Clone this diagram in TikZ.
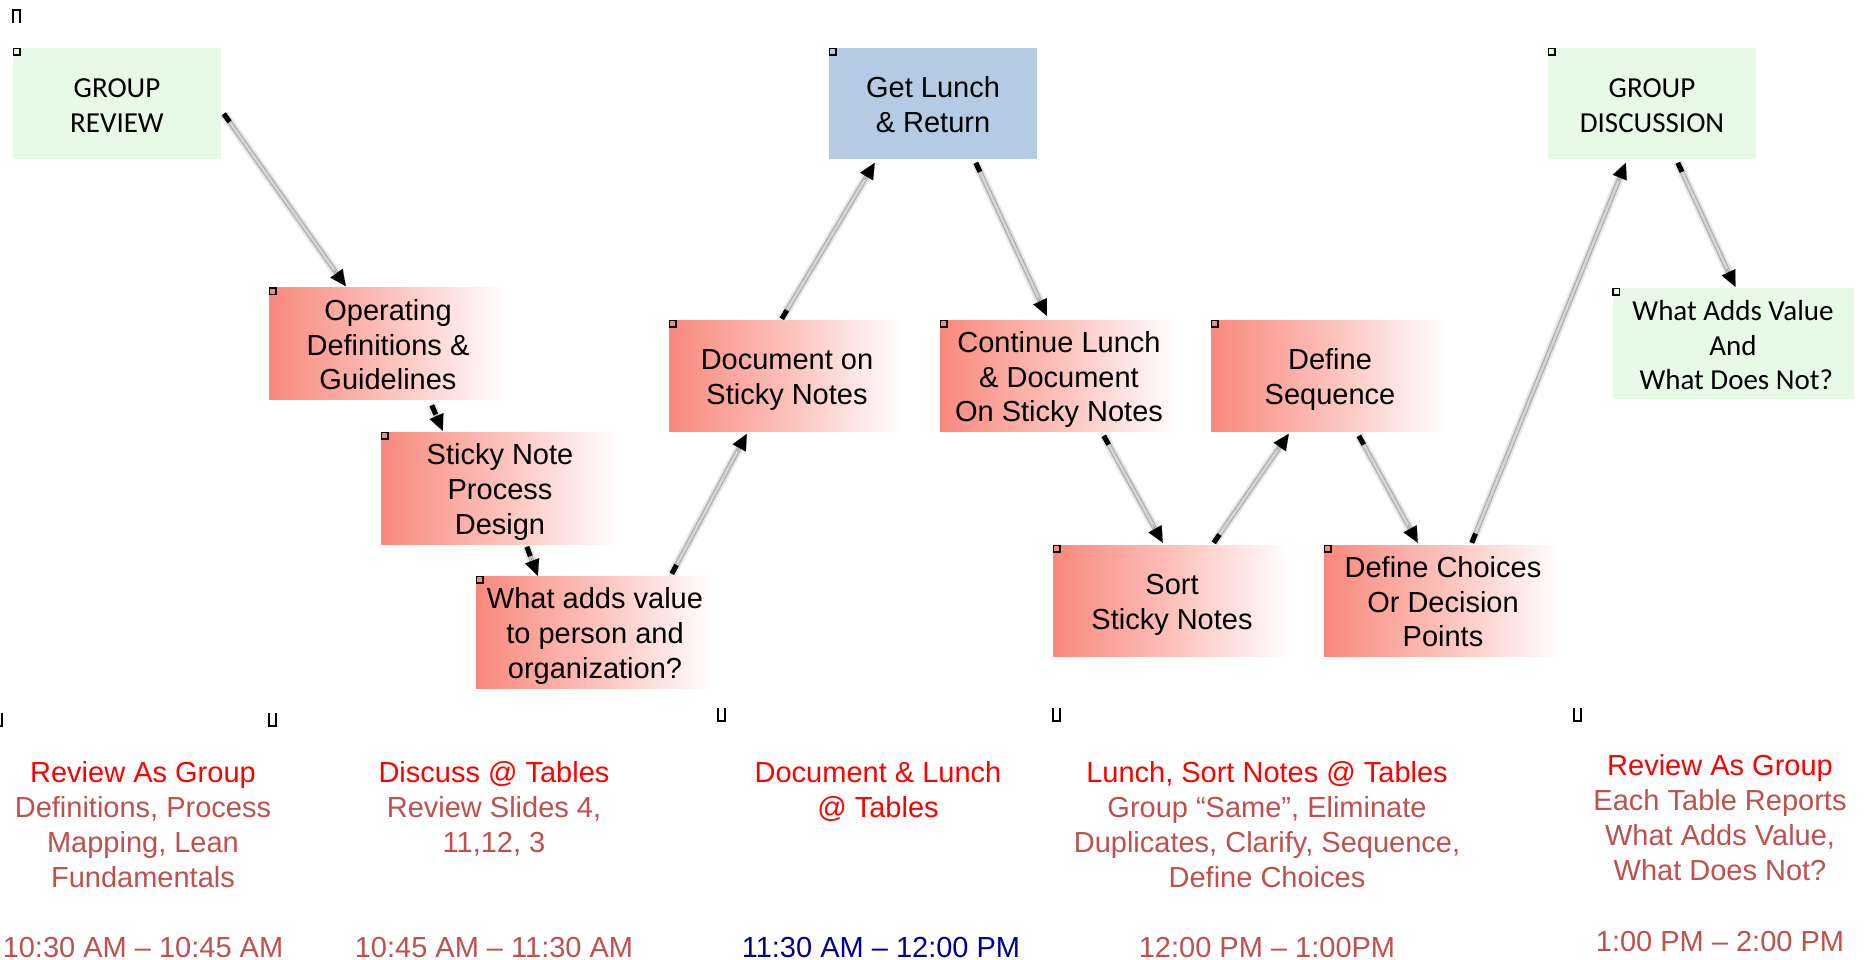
\documentclass[tikz,border=0pt]{standalone}
\usepackage{fontspec}
\setmainfont{Liberation Sans}
\newfontfamily\calib{Carlito}
\usetikzlibrary{arrows.meta,calc}
\definecolor{grn}{HTML}{E6FAE6}
\definecolor{blu}{HTML}{B4CBE3}
\definecolor{pkA}{HTML}{F9877B}
\definecolor{hd}{HTML}{FF0000}
\definecolor{bd}{HTML}{C0504D}
\definecolor{nv}{HTML}{000090}
\pgfdeclarehorizontalshading{pinkfade}{100bp}{color(0bp)=(pkA); color(25bp)=(pkA); color(27bp)=(pkA!95!white); color(50bp)=(pkA!52!white); color(70bp)=(pkA!10!white); color(75bp)=(white); color(100bp)=(white)}
\newcommand\tl{\rule{0pt}{32pt}}
\newcommand\bl{\rule[-9pt]{0pt}{9pt}}
\tikzset{
  box/.style={inner sep=0pt, align=center, font=\fontsize{29}{34.8}\selectfont, minimum width=238pt, minimum height=112pt},
  pinkbox/.style={box, shade, shading=pinkfade},
  greenbox/.style={box, fill=grn, font=\calib\fontsize{29}{34.8}\selectfont},
  bluebox/.style={box, fill=blu},
  marksq/.style={draw=black, line width=1.5pt},
  cshadow/.style={draw=black!9, line width=9pt},
  ctube/.style={draw=black!30, line width=5pt},
  ctubein/.style={draw=black!16, line width=2.2pt},
  cstub/.style={draw=black, line width=5pt},
  ctip/.style={draw=black, line width=0.1pt, -{Triangle[length=16pt,width=15pt]}},
  bt/.style={inner sep=0pt, align=center, font=\fontsize{29}{35}\selectfont, text=bd, anchor=north},
  tt/.style={inner sep=0pt, font=\fontsize{29}{35}\selectfont, text=bd, anchor=base},
  phmark/.style={draw=black, line width=2.6pt}
}
\newcommand\mksq[1]{\draw[marksq] ($(#1.north west)+(0.8,0.8)$) rectangle ++(6.5,6.5);}
\newcommand\conn[2]{%
  \draw[cshadow] (#1) -- ($(#2)!10pt!(#1)$);
  \draw[ctube] (#1) -- ($(#2)!12pt!(#1)$);
  \draw[ctubein] (#1) -- ($(#2)!12pt!(#1)$);
  \draw[cstub] (#1) -- ($(#1)!10pt!(#2)$);
  \draw[ctip] ($(#2)!20pt!(#1)$) -- (#2);}
\begin{document}
\begin{tikzpicture}[x=1pt,y=-1pt]
\useasboundingbox (0,0) rectangle (1866,960);
\fill[white] (0,0) rectangle (1866,960);
% boxes
\node[greenbox, minimum width=208pt, minimum height=111pt] (gr) at (117,103.5) {\tl GROUP\\REVIEW\bl};
\node[pinkbox] (op) at (388,343.5) {\tl Operating\\Definitions \&\\Guidelines\bl};
\node[pinkbox] (sn) at (500,488) {\tl Sticky Note\\Process\\Design\bl};
\node[pinkbox] (wa) at (595,632) {\tl What adds value\\to person and\\organization?\bl};
\node[pinkbox, minimum width=236pt, minimum height=111pt] (doc) at (787,375.5) {\tl Document on\\Sticky Notes\bl};
\node[bluebox, minimum width=208pt, minimum height=111pt] (gl) at (933,103.5) {\tl Get Lunch\\\& Return\bl};
\node[pinkbox, minimum height=111pt] (cl) at (1059,375.5) {\tl Continue Lunch\\\& Document\\On Sticky Notes\bl};
\node[pinkbox, minimum height=111pt] (ds) at (1330,375.5) {\tl Define\\Sequence\bl};
\node[pinkbox, minimum height=111pt] (so) at (1172,600.5) {\tl Sort\\Sticky Notes\bl};
\node[pinkbox, minimum height=111pt] (dc) at (1443,600.5) {\tl Define Choices\\Or Decision\\Points\bl};
\node[greenbox, minimum width=208pt, minimum height=111pt] (gd) at (1652,103.5) {\tl GROUP\\DISCUSSION\bl};
\node[greenbox, minimum width=241pt, minimum height=111pt] (wv) at (1733,343.5) {\tl What Adds Value\\And\\\ What Does Not?\bl};
\foreach \n in {gr,op,sn,wa,doc,gl,cl,ds,so,dc,gd,wv}{\mksq{\n}}
% connector end points
\coordinate (a1) at ($(gr.north west)+(211,66)$);
\coordinate (b1) at ($(op.north west)+(77,-1)$);
\coordinate (a2) at ($(op.north west)+(163,118)$);
\coordinate (b2) at ($(sn.north west)+(62,-1)$);
\coordinate (a3) at ($(sn.north west)+(146,115)$);
\coordinate (b3) at ($(wa.north west)+(62,0)$);
\coordinate (a4) at ($(wa.north west)+(196,-2)$);
\coordinate (b4) at ($(doc.north west)+(78,114)$);
\coordinate (a5) at ($(doc.north west)+(113,-1)$);
\coordinate (b5) at ($(gl.north west)+(46,115)$);
\coordinate (a6) at ($(gl.north west)+(147,115)$);
\coordinate (b6) at ($(cl.north west)+(107,-4)$);
\coordinate (a7) at ($(cl.north west)+(164,116)$);
\coordinate (b7) at ($(so.north west)+(110,-2)$);
\coordinate (a8) at ($(so.north west)+(161,-2)$);
\coordinate (b8) at ($(ds.north west)+(78,114)$);
\coordinate (a9) at ($(ds.north west)+(148,116)$);
\coordinate (b9) at ($(dc.north west)+(94,-2)$);
\coordinate (a10) at ($(dc.north west)+(148,-2)$);
\coordinate (b10) at ($(gd.north west)+(78,115)$);
\coordinate (a11) at ($(gd.north west)+(130,115)$);
\coordinate (b11) at ($(wv.north west)+(123,-1)$);
\foreach \i in {1,...,11}{\conn{a\i}{b\i}}
% placeholder marks
\draw[phmark] (13,23) -- (13,10) -- (20,10) -- (20,23);
\draw[phmark] (-4,713) -- (-4,726) -- (2,726) -- (2,713);
\draw[phmark] (269,713) -- (269,726) -- (276,726) -- (276,713);
\draw[phmark] (718,708) -- (718,721) -- (725,721) -- (725,708);
\draw[phmark] (1053,708) -- (1053,721) -- (1060,721) -- (1060,708);
\draw[phmark] (1574,708) -- (1574,721) -- (1581,721) -- (1581,708);
% bottom texts
\node[bt] (t1) at (143,757.5) {{\color{hd}\strut Review As Group}\\Definitions, Process\\Mapping, Lean\\Fundamentals};
\node[bt] (t2) at (494,757.5) {{\color{hd}\strut Discuss @ Tables}\\Review Slides 4,\\11,12, 3};
\node[bt, text=hd] (t3) at (878,757.5) {\strut Document \& Lunch\\@ Tables};
\node[bt] (t4) at (1267,757.5) {{\color{hd}\strut Lunch, Sort Notes @ Tables}\\Group “Same”, Eliminate\\Duplicates, Clarify, Sequence,\\Define Choices};
\node[bt] (t5) at (1720,750.5) {{\color{hd}\strut Review As Group}\\Each Table Reports\\What Adds Value,\\What Does Not?};
\node[tt] (m1) at (143,957.5) {10:30 AM – 10:45 AM};
\node[tt] (m2) at (494,957.5) {10:45 AM – 11:30 AM};
\node[tt, text=nv] (m3) at (881,957.5) {11:30 AM – 12:00 PM};
\node[tt] (m4) at (1267,957.5) {12:00 PM – 1:00PM};
\node[tt] (m5) at (1720,951) {1:00 PM – 2:00 PM};
\end{tikzpicture}
\end{document}
